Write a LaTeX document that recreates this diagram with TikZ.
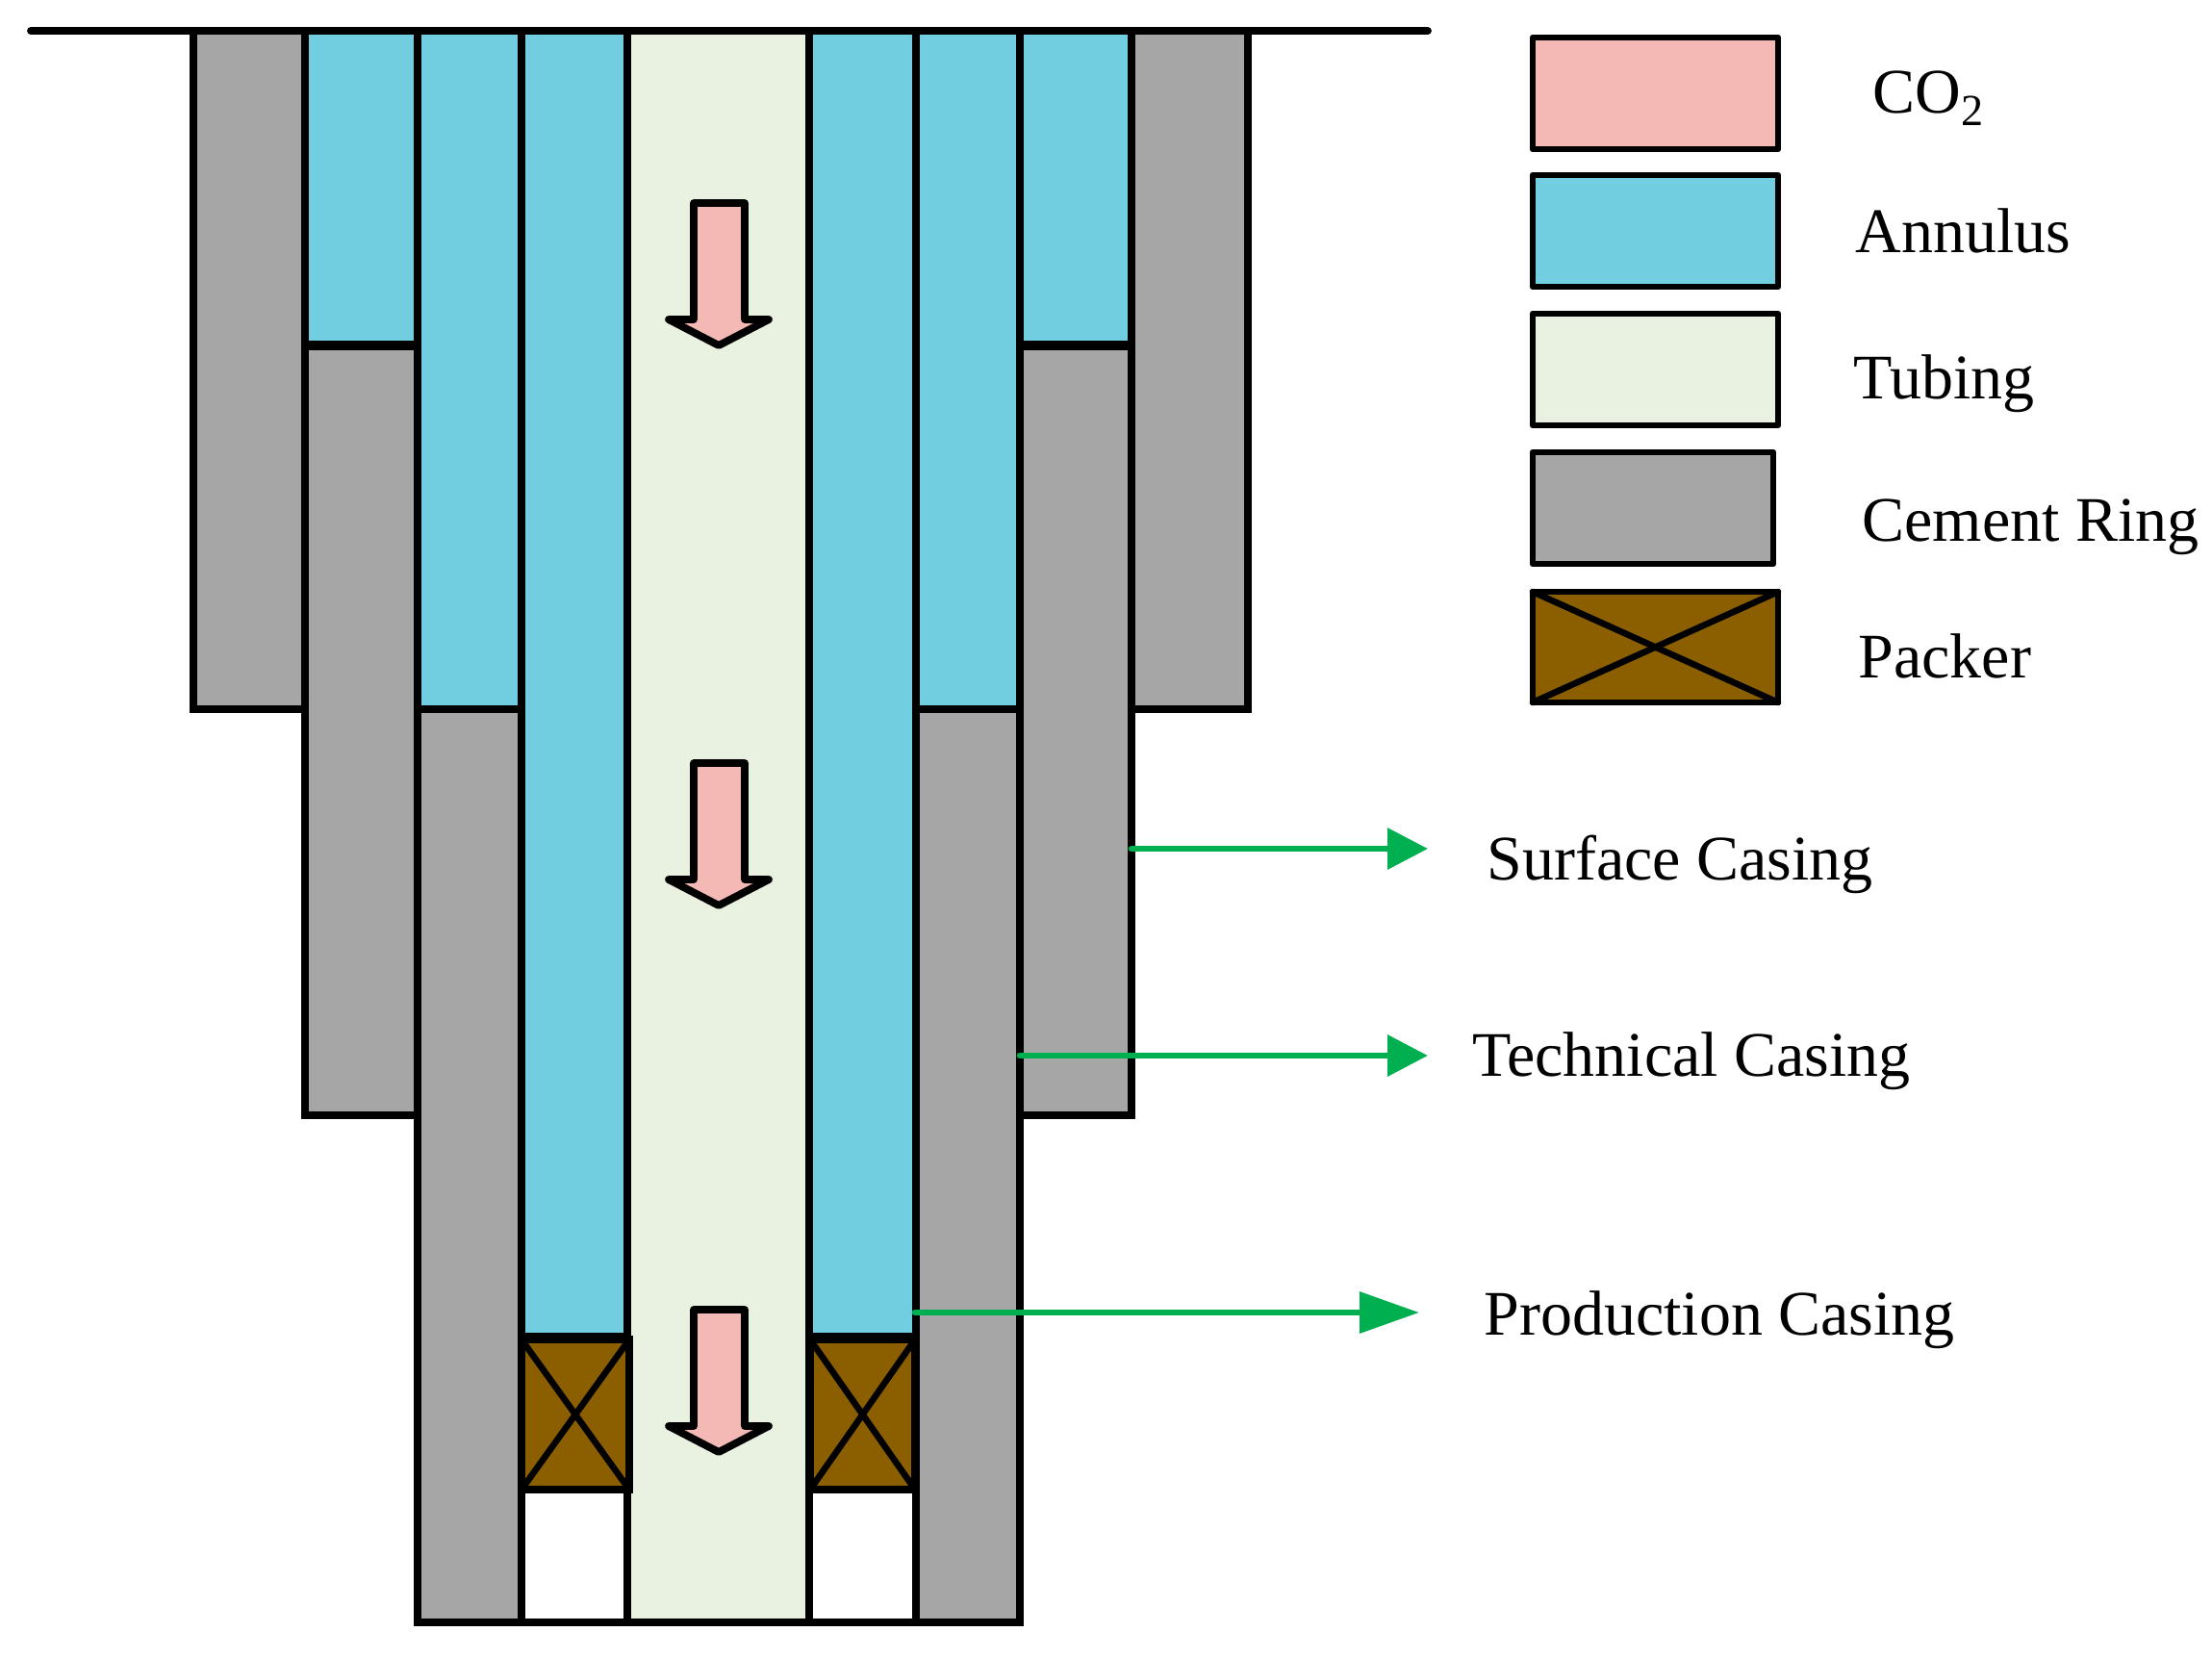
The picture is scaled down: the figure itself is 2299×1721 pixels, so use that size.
\documentclass[tikz,border=0pt]{standalone}
\usepackage{fontspec}
\setmainfont{Liberation Serif}
\usetikzlibrary{arrows.meta}
\definecolor{cement}{HTML}{A6A6A6}
\definecolor{annulus}{HTML}{71CEE0}
\definecolor{tubing}{HTML}{E9F1E0}
\definecolor{coo}{HTML}{F4B9B5}
\definecolor{packer}{HTML}{8B5F00}
\definecolor{leader}{HTML}{00B050}
\tikzset{
  wall/.style={draw=black,line width=3.9pt,line join=miter},
  cementbox/.style={wall,fill=cement},
  annulusbox/.style={wall,fill=annulus},
  tubingbox/.style={wall,fill=tubing},
  emptybox/.style={wall,fill=white},
  packerbox/.style={wall,fill=packer},
  crossline/.style={draw=black,line width=3.3pt,line cap=round},
  legendbox/.style={draw=black,line width=3.4pt,line join=round},
  flowarrow/.style={draw=black,line width=3.9pt,line join=round,fill=coo},
  label/.style={anchor=base west,inner sep=0pt,font=\fontsize{33}{39}\selectfont},
  leaderline/.style={draw=leader,line width=3.3pt,line cap=round,-{Triangle[length=21pt,width=21pt]}},
  leaderlong/.style={draw=leader,line width=3.3pt,line cap=round,-{Triangle[length=31pt,width=21pt]}},
}
\begin{document}
\begin{tikzpicture}[x=0.5pt,y=-0.5pt]
\useasboundingbox (0,0) rectangle (2299,1721);
% tubing
\path[tubingbox] (652,32) rectangle (841,1686);
% white below packers
\path[emptybox] (542,1548) rectangle (652,1686);
\path[emptybox] (841,1548) rectangle (952,1686);
% cement, left
\path[cementbox] (201,32) rectangle (317,737);
\path[cementbox] (317,360) rectangle (434,1159);
\path[cementbox] (434,737) rectangle (542,1686);
% cement, right
\path[cementbox] (1176,32) rectangle (1297,737);
\path[cementbox] (1060,360) rectangle (1176,1159);
\path[cementbox] (952,737) rectangle (1060,1686);
% annuli
\path[annulusbox] (317,32) rectangle (434,358);
\path[annulusbox] (434,32) rectangle (542,737);
\path[annulusbox] (542,32) rectangle (652,1389);
\path[annulusbox] (841,32) rectangle (952,1389);
\path[annulusbox] (952,32) rectangle (1060,737);
\path[annulusbox] (1060,32) rectangle (1176,358);
% packers
\path[packerbox] (542,1392) rectangle (654,1548);
\draw[crossline] (542,1392) -- (654,1548);
\draw[crossline] (542,1548) -- (654,1392);
\path[packerbox] (842,1392) rectangle (951,1548);
\draw[crossline] (842,1392) -- (951,1548);
\draw[crossline] (842,1548) -- (951,1392);
% ground line
\coordinate (gl) at (32,32);
\coordinate (gr) at (1484,32);
\draw[line width=3.9pt,line cap=round] (gl) -- (gr);
% flow arrows
\foreach \ay in {211,793,1361}{
  \path[flowarrow] (721,\ay) -- (774,\ay) -- (774,\ay+121) -- (799,\ay+121)
    -- (747,\ay+148) -- (695,\ay+121) -- (721,\ay+121) -- cycle;
}
% legend
\path[legendbox,fill=coo] (1593,39) rectangle (1848,155);
\path[legendbox,fill=annulus] (1593,182) rectangle (1848,298);
\path[legendbox,fill=tubing] (1593,326) rectangle (1848,442);
\path[legendbox,fill=cement] (1593,470) rectangle (1843,586);
\path[legendbox,fill=packer] (1593,615) rectangle (1848,730);
\draw[crossline] (1593,615) -- (1848,730);
\draw[crossline] (1593,730) -- (1848,615);
\node[label] (lco) at (1946,117) {CO\textsubscript{2}};
\node[label] (lan) at (1928,262) {Annulus};
\node[label] (ltu) at (1926,414) {Tubing};
\node[label] (lce) at (1935,562) {Cement Ring};
\node[label] (lpa) at (1931,704) {Packer};
% casing labels and leaders
\node[label] (ls) at (1545,914) {Surface Casing};
\node[label] (lt) at (1530,1118) {Technical Casing};
\node[label] (lp) at (1542,1387) {Production Casing};
\coordinate (s0) at (1176,882);
\coordinate (s1) at (1484,882);
\coordinate (t0) at (1060,1097);
\coordinate (t1) at (1484,1097);
\coordinate (p0) at (951,1364);
\coordinate (p1) at (1475,1364);
\draw[leaderline] (s0) -- (s1);
\draw[leaderline] (t0) -- (t1);
\draw[leaderlong] (p0) -- (p1);
\end{tikzpicture}
\end{document}
